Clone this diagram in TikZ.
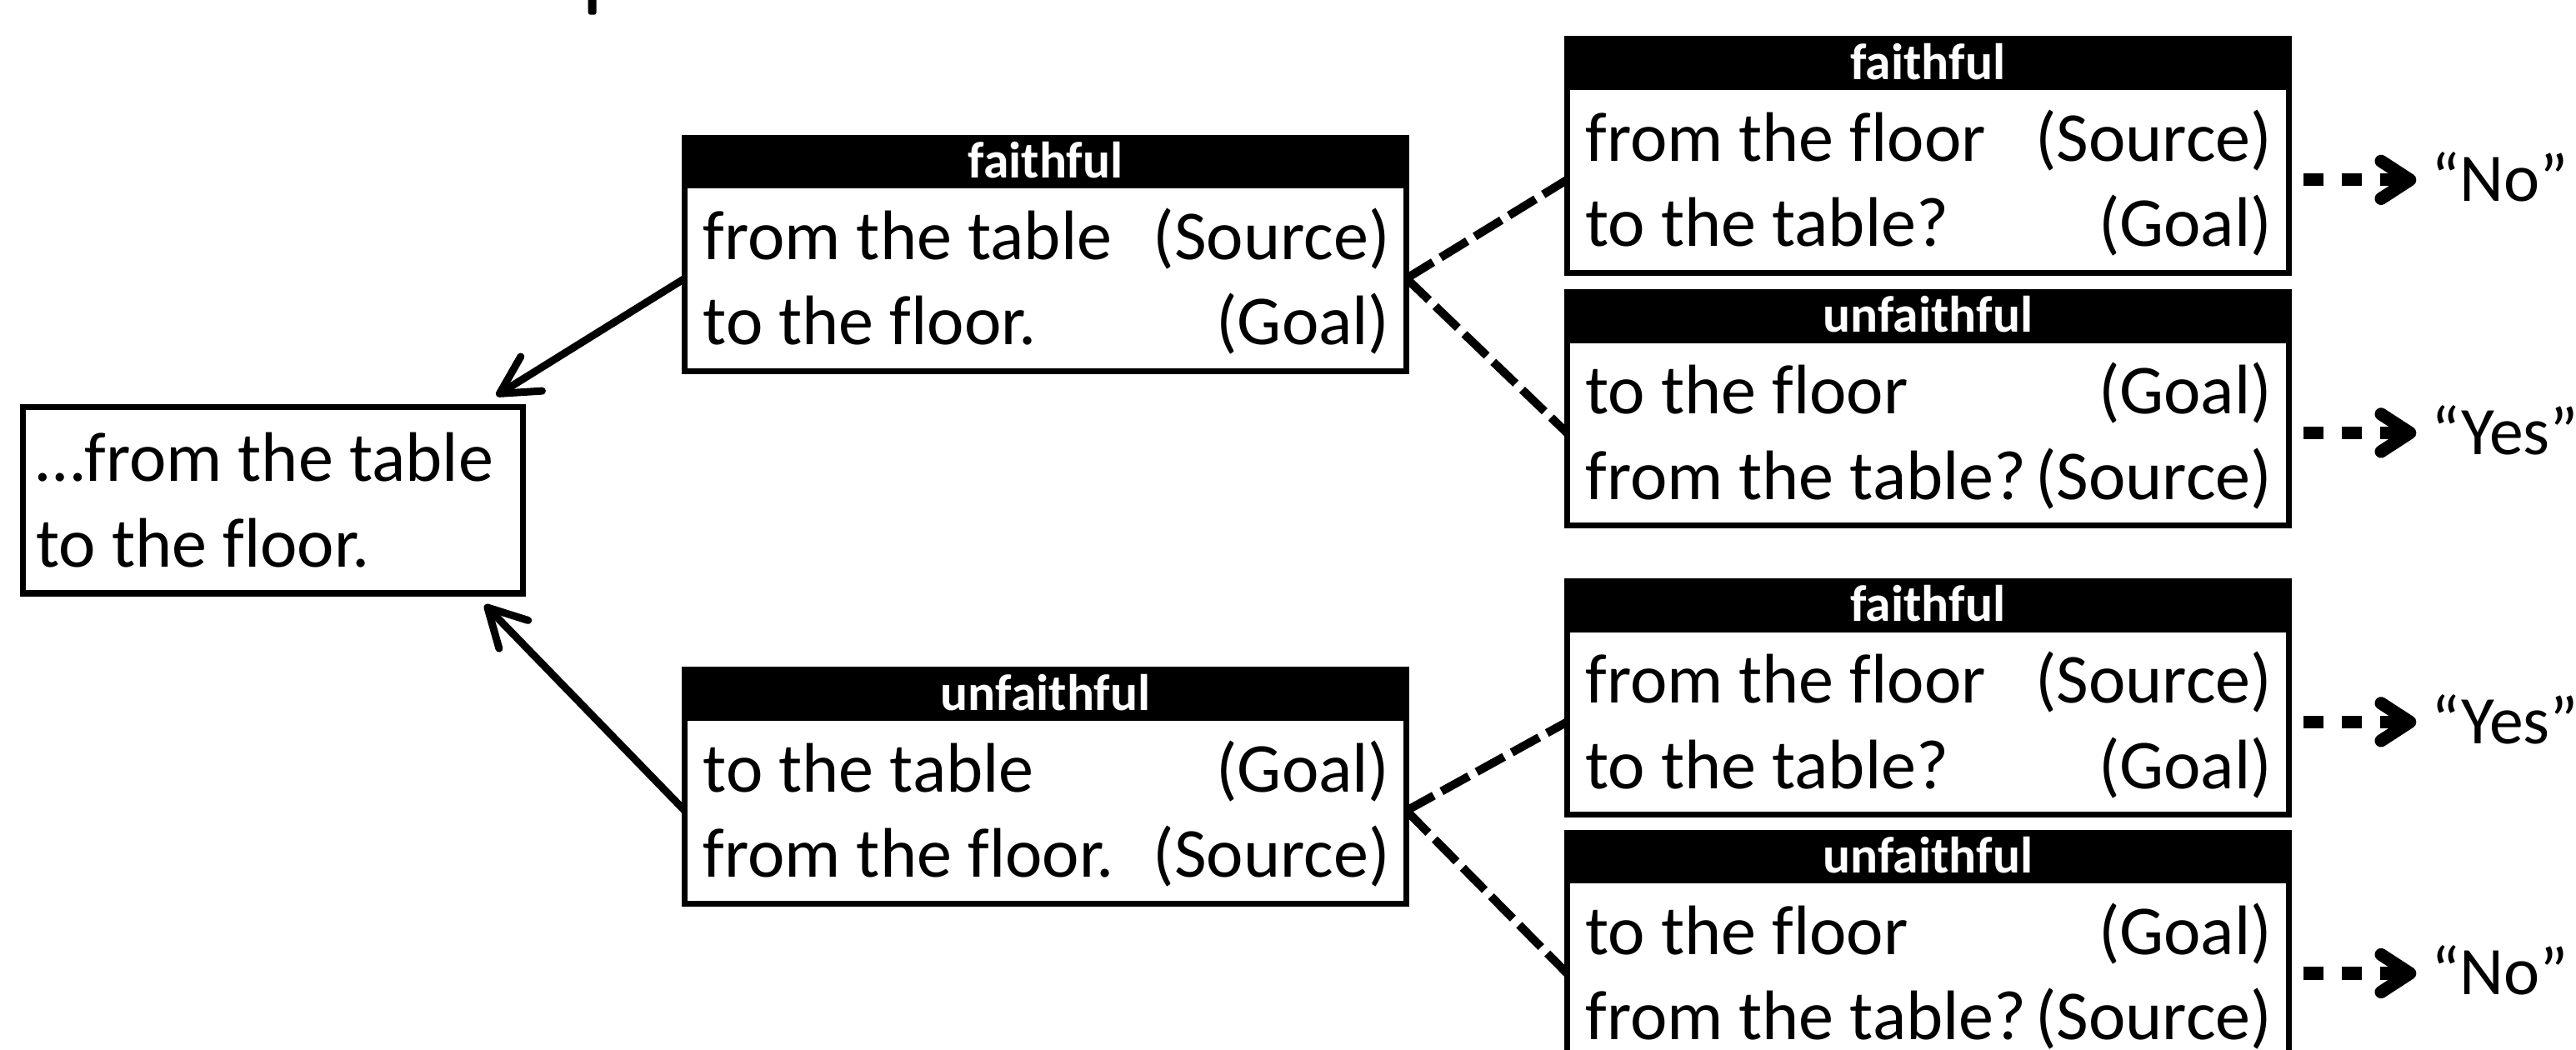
\documentclass[tikz,border=0pt]{standalone}
\usepackage{fontspec}
\setmainfont{Carlito}[Ligatures={TeX,NoCommon}]
\usetikzlibrary{arrows.meta,calc}

\tikzset{
  headbox/.style={fill=black, text=white, inner sep=0pt, outer sep=0pt,
    minimum width=8.86cm, minimum height=0.62cm, anchor=north west,
    font=\fontsize{17.8}{20}\selectfont\bfseries},
  bodybox/.style={draw, line width=2.05pt, inner sep=0pt, outer sep=0pt,
    minimum width=8.788cm, minimum height=2.26cm, anchor=north west},
  sentbox/.style={draw, line width=2.05pt, inner sep=0pt, outer sep=0pt,
    minimum width=6.088cm, minimum height=2.268cm, anchor=north west},
  rowtext/.style={inner sep=0pt, outer sep=0pt,
    font=\fontsize{24.3}{29}\selectfont},
  anstext/.style={inner sep=0pt, outer sep=0pt,
    font=\fontsize{23.6}{28}\selectfont},
  back/.style={line width=2.6pt,
    -{Straight Barb[length=13pt,width=14pt,round]}},
  branch/.style={line width=2.9pt, dash pattern=on 10.8pt off 3.1pt},
  answer/.style={line width=4.4pt, dash pattern=on 7.1pt off 6.2pt,
    -{Straight Barb[length=10pt,width=13pt,round]},
    shorten <=5pt, shorten >=5.2pt},
}

% #1 name, #2 left, #3 top, #4 header, #5/#6 first row, #7/#8 second row
\newcommand\rolebox[8]{%
  \node[headbox] (#1h) at (#2,#3) {#4};
  \node[bodybox] (#1) at (#2+1.8,#3+31) {};
  \node[rowtext, anchor=base west] (#1a) at ($(#1.north west)+(11.2,45)$) {#5};
  \node[rowtext, anchor=base east] (#1b) at ($(#1.north east)+(-10.2,45)$) {#6};
  \node[rowtext, anchor=base west] (#1c) at ($(#1.north west)+(11.2,97)$) {#7};
  \node[rowtext, anchor=base east] (#1d) at ($(#1.north east)+(-10.2,97)$) {#8};
}

\begin{document}
\begin{tikzpicture}[x=0.02cm, y=-0.02cm]
\useasboundingbox (0,0) rectangle (1568,639);
\clip (0,0) rectangle (1568,639);

% descender of the title line above
\fill[rounded corners=0.8pt] (358,-6) rectangle (363,9);

% the sentence
\node[sentbox] (L) at (13.8,247.8) {};
\node[rowtext, anchor=base west] (La) at (22,293) {…from the table};
\node[rowtext, anchor=base west] (Lb) at (22,345) {to the floor.};

% first-level paraphrases
\rolebox{M1}{415}{82}{faithful}{from the table}{(Source)}{to the floor.}{(Goal)}
\rolebox{M2}{415}{406}{unfaithful}{to the table}{(Goal)}{from the floor.}{(Source)}

% questions
\rolebox{R1}{952}{22}{faithful}{from the floor}{(Source)}{to the table?}{(Goal)}
\rolebox{R2}{952}{176}{unfaithful}{to the floor}{(Goal)}{from the table?}{(Source)}
\rolebox{R3}{952}{352}{faithful}{from the floor}{(Source)}{to the table?}{(Goal)}
\rolebox{R4}{952}{505}{unfaithful}{to the floor}{(Goal)}{from the table?}{(Source)}

% arrows back to the sentence
\coordinate (LtipA) at ($(L.north east)+(-16,-7)$);
\coordinate (LtipB) at ($(L.south east)+(-23,7)$);
\draw[back] (M1.west) -- (LtipA);
\draw[back] (M2.west) -- (LtipB);

% branches to the questions
\draw[branch] (M1.east) -- (R1.west);
\draw[branch] (M1.east) -- (R2.west);
\draw[branch] (M2.east) -- (R3.west);
\draw[branch] (M2.east) -- (R4.west);

% answers
\node[anstext, anchor=base west] (R1ans) at ($(R1.east)+(86.8,13)$) {“No”};
\node[anstext, anchor=base west] (R2ans) at ($(R2.east)+(86.8,13)$) {“Yes”};
\node[anstext, anchor=base west] (R3ans) at ($(R3.east)+(86.8,13)$) {“Yes”};
\node[anstext, anchor=base west] (R4ans) at ($(R4.east)+(86.8,13)$) {“No”};
\draw[answer] (R1.east) -- (R1.east -| R1ans.west);
\draw[answer] (R2.east) -- (R2.east -| R2ans.west);
\draw[answer] (R3.east) -- (R3.east -| R3ans.west);
\draw[answer] (R4.east) -- (R4.east -| R4ans.west);
\end{tikzpicture}
\end{document}
